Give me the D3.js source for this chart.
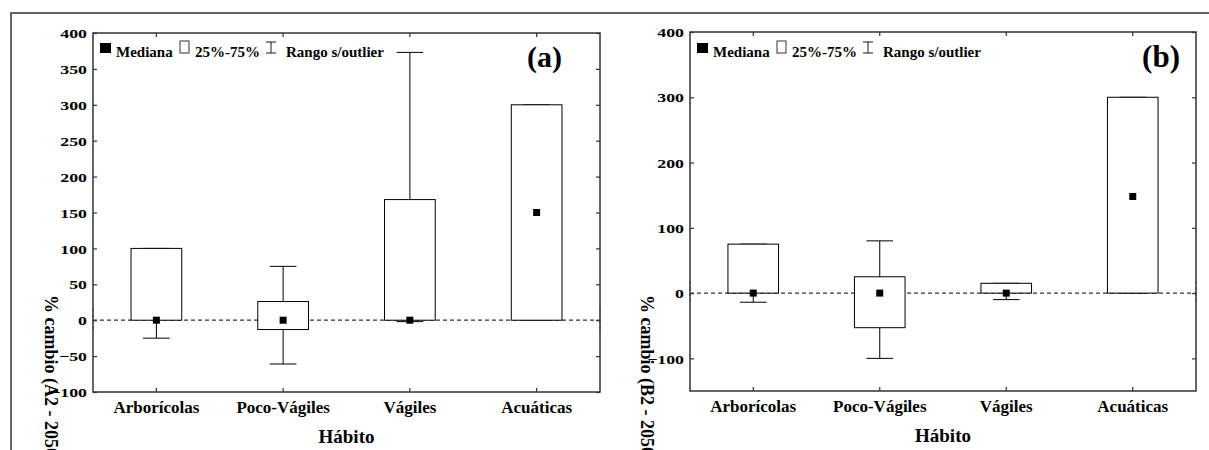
<!DOCTYPE html>
<html>
<head>
<meta charset="utf-8">
<script src="https://d3js.org/d3.v7.min.js"></script>
<style>
  body { margin: 0; background: #fff; }
  text { font-family: "Liberation Serif", "Times New Roman", serif; font-weight: bold; fill: #000; }
</style>
</head>
<body>
<svg id="chart"></svg>
<script>
  // categories and box-plot values
  var categories = ["Arborícolas", "Poco-Vágiles", "Vágiles", "Acuáticas"];

  // panel (a): A2 - 2050
  var a2Min    = [-25, -61, -2, 0];
  var a2Q1     = [0, -13, 0, 0];
  var a2Median = [0, 0, 0, 150];
  var a2Q3     = [100, 26, 168, 300];
  var a2Max    = [100, 75, 373, 300];
  var a2Ticks  = [-100, -50, 0, 50, 100, 150, 200, 250, 300, 350, 400];

  // panel (b): B2 - 2050
  var b2Min    = [-14, -100, -10, 0];
  var b2Q1     = [0, -53, 0, 0];
  var b2Median = [0, 0, 0, 148];
  var b2Q3     = [75, 25, 15, 300];
  var b2Max    = [75, 80, 15, 300];
  var b2Ticks  = [-100, 0, 100, 200, 300, 400];

  var width = 1209, height = 450;
  var svg = d3.select('#chart').attr('width', width).attr('height', height);

  // outer frame (top and left edges only show)
  svg.append('path')
    .attr('d', 'M11,450 L11,13 L1209,13')
    .attr('fill', 'none').attr('stroke', '#333').attr('stroke-width', 1.5);

  function drawPanel(p) {
    var g = svg.append('g');
    var x = d3.scaleBand().domain(categories).range([p.left, p.right]).padding(0);
    var y = d3.scaleLinear().domain(p.domain).range([p.bottom, p.top]);

    var rows = categories.map(function(c, i) {
      return {cat: c, min: p.min[i], q1: p.q1[i], med: p.median[i], q3: p.q3[i], max: p.max[i]};
    });

    // zero reference line, dashed
    var y0 = y(0);
    g.append('line')
      .attr('x1', p.left).attr('x2', p.right).attr('y1', y0).attr('y2', y0)
      .attr('stroke', '#333').attr('stroke-width', 1.2).attr('stroke-dasharray', '4,3');
    [p.left, p.right].forEach(function(xx) {
      g.append('line')
        .attr('x1', xx).attr('x2', xx).attr('y1', y0 - 12).attr('y2', y0 + 12)
        .attr('stroke', '#555').attr('stroke-width', 1).attr('stroke-dasharray', '3,3');
    });

    var bw = x.bandwidth() * 0.4;
    var cw = x.bandwidth() * 0.21;
    var cx = function(d) { return x(d.cat) + x.bandwidth() / 2; };

    // whiskers
    var wh = g.selectAll('.wh').data(rows).enter().append('g');
    wh.append('line')
      .attr('x1', cx).attr('x2', cx)
      .attr('y1', function(d) { return y(d.q3); }).attr('y2', function(d) { return y(d.max); })
      .attr('stroke', '#000');
    wh.append('line')
      .attr('x1', cx).attr('x2', cx)
      .attr('y1', function(d) { return y(d.q1); }).attr('y2', function(d) { return y(d.min); })
      .attr('stroke', '#000');
    wh.append('line')
      .attr('x1', function(d) { return cx(d) - cw / 2; }).attr('x2', function(d) { return cx(d) + cw / 2; })
      .attr('y1', function(d) { return y(d.max); }).attr('y2', function(d) { return y(d.max); })
      .attr('stroke', '#000');
    wh.append('line')
      .attr('x1', function(d) { return cx(d) - cw / 2; }).attr('x2', function(d) { return cx(d) + cw / 2; })
      .attr('y1', function(d) { return y(d.min); }).attr('y2', function(d) { return y(d.min); })
      .attr('stroke', '#000');

    // boxes 25%-75%
    g.selectAll('.box').data(rows).enter().append('rect')
      .attr('x', function(d) { return cx(d) - bw / 2; })
      .attr('y', function(d) { return y(d.q3); })
      .attr('width', bw)
      .attr('height', function(d) { return y(d.q1) - y(d.q3); })
      .attr('fill', '#fff').attr('stroke', '#000').attr('stroke-width', 1);

    // medians
    g.selectAll('.med').data(rows).enter().append('rect')
      .attr('x', function(d) { return cx(d) - 3.5; })
      .attr('y', function(d) { return y(d.med) - 3.5; })
      .attr('width', 7).attr('height', 7)
      .attr('fill', '#000');

    // axes, ticks inward
    var gl = g.append('g').attr('transform', 'translate(' + p.left + ',0)')
      .call(d3.axisLeft(y).tickValues(p.ticks).tickSize(-4).tickPadding(0));
    gl.selectAll('text')
      .attr('x', null).attr('dy', '0.36em')
      .attr('transform', 'translate(-6,0) scale(1.37,1)')
      .style('font-size', '13px');
    g.append('g').attr('transform', 'translate(' + p.right + ',0)')
      .call(d3.axisRight(y).tickValues(p.ticks).tickSize(-4).tickFormat(''));
    var gb = g.append('g').attr('transform', 'translate(0,' + p.bottom + ')')
      .call(d3.axisBottom(x).tickSize(-4).tickPadding(8.5));
    gb.selectAll('text').style('font-size', '17px');
    g.append('g').attr('transform', 'translate(0,' + p.top + ')')
      .call(d3.axisTop(x).tickSize(-4).tickFormat(''));
    g.selectAll('.domain').remove();
    g.selectAll('.tick line').attr('stroke', '#333').attr('stroke-width', 1.2);
    g.selectAll('.tick text').attr('fill', '#000').attr('font-family', null);

    // plot frame
    g.append('rect')
      .attr('x', p.left).attr('y', p.top)
      .attr('width', p.right - p.left).attr('height', p.bottom - p.top)
      .attr('fill', 'none').attr('stroke', '#333').attr('stroke-width', 1.5);

    // legend
    var lx = p.left, ly = 57;
    g.append('rect').attr('x', lx + 7).attr('y', 43).attr('width', 11).attr('height', 10).attr('fill', '#000');
    g.append('text').attr('x', lx + 23).attr('y', ly).style('font-size', '15px').text('Mediana');
    g.append('rect').attr('x', lx + 87).attr('y', 41).attr('width', 9).attr('height', 12)
      .attr('fill', '#fff').attr('stroke', '#000').attr('stroke-width', 0.8);
    g.append('text').attr('x', lx + 102).attr('y', ly).style('font-size', '15px').text('25%-75%');
    var ix = lx + 178;
    g.append('path')
      .attr('d', 'M' + (ix - 5) + ',42H' + (ix + 5) + 'M' + ix + ',42V53M' + (ix - 5) + ',53H' + (ix + 5))
      .attr('stroke', '#000').attr('stroke-width', 0.9).attr('fill', 'none');
    g.append('text').attr('x', lx + 193).attr('y', ly).style('font-size', '15px').text('Rango s/outlier');

    // panel tag
    g.append('text').attr('x', p.tagX).attr('y', 67).attr('text-anchor', 'end')
      .style('font-size', p.tagSize + 'px').text(p.tag);

    // axis titles
    g.append('text').attr('x', (p.left + p.right) / 2).attr('y', p.titleY)
      .attr('text-anchor', 'middle').style('font-size', '19px').text('Hábito');
    g.append('text')
      .attr('transform', 'translate(' + p.yLabelX + ',295) rotate(90)')
      .style('font-size', '18px').text(p.yLabel);
  }

  drawPanel({
    left: 93, right: 600, top: 33, bottom: 392, domain: [-100, 400], ticks: a2Ticks,
    min: a2Min, q1: a2Q1, median: a2Median, q3: a2Q3, max: a2Max,
    tag: '(a)', tagX: 562, tagSize: 30, titleY: 443,
    yLabel: '% cambio (A2 - 2050)', yLabelX: 45
  });

  drawPanel({
    left: 690, right: 1196, top: 32, bottom: 391, domain: [-150, 400], ticks: b2Ticks,
    min: b2Min, q1: b2Q1, median: b2Median, q3: b2Q3, max: b2Max,
    tag: '(b)', tagX: 1180, tagSize: 31, titleY: 442,
    yLabel: '% cambio (B2 - 2050)', yLabelX: 641
  });
</script>
</body>
</html>
